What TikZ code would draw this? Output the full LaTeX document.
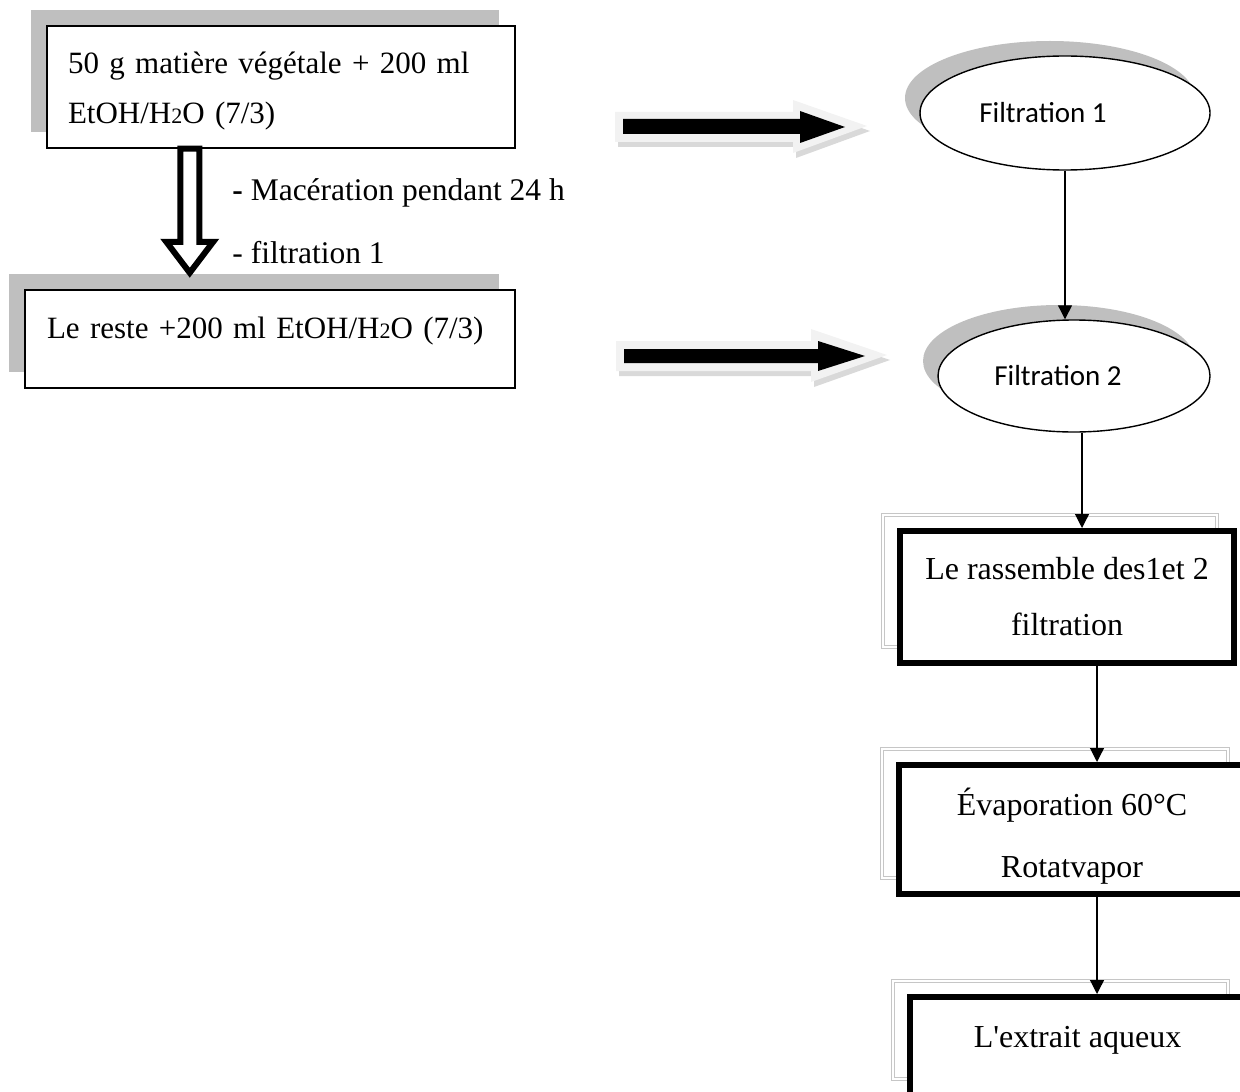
\documentclass[tikz,border=0pt]{standalone}
\usepackage{fontspec}
\setmainfont{Liberation Serif}
\newfontfamily\calibri{Carlito}
\usetikzlibrary{arrows.meta,shapes.geometric,shadows}

\begin{document}
\begin{tikzpicture}[x=0.5pt,y=-0.5pt, every node/.style={font=\fontsize{16}{25}\selectfont},
 cadre/.style={draw,fill=white,line width=0.75pt,align=left,font=\fontsize{15.5}{25}\selectfont,
   drop shadow={shadow xshift=-8pt,shadow yshift=8pt,fill=gray!50,opacity=1}},
 ovale/.style={ellipse,draw,fill=white,line width=0.7pt,font=\calibri\fontsize{14.5}{17}\selectfont,
   drop shadow={shadow xshift=-7.5pt,shadow yshift=7.5pt,fill=gray!50,opacity=1}},
 epais/.style={draw,fill=white,line width=3pt,align=center,
   general shadow={shadow xshift=-8.5pt,shadow yshift=8pt,draw=gray!45,line width=0.6pt,double=white,double distance=1pt}},
 fleche/.style={-{Triangle[length=7pt,width=7pt]},line width=0.6pt}]
\useasboundingbox (0,0) rectangle (1240,1091);
\clip (0,0) rectangle (1240,1091);

% left column
\node[cadre,text width=213pt,inner xsep=10.5pt,minimum height=61pt] (melange) at (281,87)
 {\rule{0pt}{15pt}50 g matière végétale + 200 ml\\EtOH/H{\fontsize{11}{11}\selectfont 2}O (7/3)};
\node[cadre,text width=223pt,inner xsep=11pt,minimum height=49pt,text height=12pt,text depth=13pt] (reste) at (270,339)
 {\mbox{Le reste +200 ml EtOH/H{\fontsize{11}{11}\selectfont 2}O (7/3)}};
\draw[line width=3pt,fill=white] ([xshift=67pt]melange.south west) -- ++(19,0) -- ++(0,93) -- ++(14,0)
 -- ++(-23.5,31) -- ++(-23.5,-31) -- ++(14,0) -- cycle;
\node[anchor=west,inner sep=0pt,font=\fontsize{15.75}{20}\selectfont] (etape1) at (232,193) {\textbf{-} Macération pendant 24 h};
\node[anchor=west,inner sep=0pt,font=\fontsize{15.75}{20}\selectfont] (etape2) at (232,253) {- filtration 1};

% big arrows
\fill[gray!30] (618,117) -- (796,117) -- (796,105) -- (870,131) -- (796,158) -- (796,147) -- (618,147) -- cycle;
\fill[gray!10] (615,112) -- (793,112) -- (793,100) -- (867,126) -- (793,153) -- (793,142) -- (615,142) -- cycle;
\fill[black] (623,119) -- (800,119) -- (800,111) -- (845,127) -- (800,143) -- (800,134) -- (623,134) -- cycle;
\fill[gray!30] (619,346) -- (814,346) -- (814,334) -- (890,360) -- (814,387) -- (814,376) -- (619,376) -- cycle;
\fill[gray!10] (616,341) -- (811,341) -- (811,329) -- (887,355) -- (811,382) -- (811,371) -- (616,371) -- cycle;
\fill[black] (624,349) -- (818,349) -- (818,341) -- (865,356) -- (818,371) -- (818,363) -- (624,363) -- cycle;

% right column
\node[ovale,minimum width=145pt,minimum height=57pt] (filt1) at (1065,113) {Filtration 1\hspace*{22pt}};
\node[ovale,minimum width=136pt,minimum height=56pt] (filt2) at (1074,376) {Filtration 2\hspace*{16pt}};
\node[epais,minimum width=167pt,minimum height=66pt,font=\fontsize{16}{28}\selectfont] (rass) at (1067,597)
 {Le rassemble des1et 2\\filtration};
\node[epais,minimum width=173pt,minimum height=64.5pt,font=\fontsize{16}{31}\selectfont] (evap) at (1072,829.5)
 {\rule{0pt}{20pt}Évaporation 60°C\\Rotatvapor};
\node[epais,minimum width=167.5pt,minimum height=49pt,text height=12pt,text depth=10.4pt] (extrait) at (1077.5,1046)
 {L\textquotesingle extrait aqueux};

\draw[fleche] (filt1.south) -- (filt1.south |- filt2.north);
\draw[fleche] ([xshift=4pt]filt2.south) -- ([xshift=4pt]filt2.south |- rass.north);
\draw[fleche] ([xshift=15pt]rass.south) -- ([xshift=15pt]rass.south |- evap.north);
\draw[fleche] ([xshift=12.5pt]evap.south) -- ([xshift=12.5pt]evap.south |- extrait.north);
\end{tikzpicture}
\end{document}
